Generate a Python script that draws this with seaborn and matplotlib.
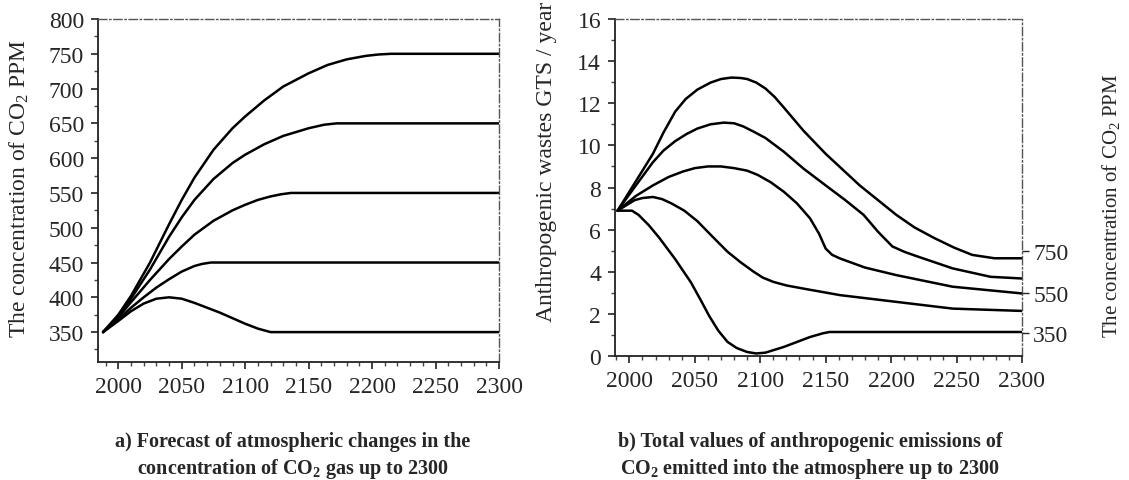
import numpy as np
import pandas as pd
import matplotlib
matplotlib.use("Agg")
import matplotlib.pyplot as plt
import seaborn as sns
from matplotlib.ticker import MultipleLocator

# ---------------- data ----------------
# Panel a: CO2 concentration scenarios (ppm)
a_350_years = [1988, 2000, 2010, 2020, 2030, 2040, 2050, 2060, 2070, 2080, 2090, 2100, 2110, 2120, 2300]
a_350_ppm   = [350, 366, 380, 391, 398, 400, 398, 392, 385, 378, 370, 362, 355, 350, 350]

a_450_years = [1988, 2000, 2010, 2020, 2030, 2040, 2050, 2060, 2066, 2073, 2300]
a_450_ppm   = [350, 368, 385, 400, 414, 426, 437, 445, 448, 450, 450]

a_550_years = [1988, 2000, 2010, 2025, 2040, 2050, 2060, 2075, 2090, 2100, 2110, 2120, 2128, 2136, 2300]
a_550_ppm   = [350, 371, 393, 425, 455, 473, 490, 510, 525, 533, 540, 545, 548, 550, 550]

a_650_years = [1988, 2000, 2010, 2025, 2040, 2050, 2060, 2075, 2090, 2100, 2115, 2130, 2150, 2162, 2172, 2300]
a_650_ppm   = [350, 373, 398, 440, 487, 515, 540, 570, 593, 605, 620, 632, 643, 648, 650, 650]

a_750_years = [1988, 2000, 2010, 2025, 2040, 2050, 2060, 2075, 2090, 2100, 2115, 2130, 2150, 2165, 2180, 2195, 2205, 2215, 2300]
a_750_ppm   = [350, 375, 402, 450, 505, 540, 572, 612, 643, 660, 683, 703, 722, 734, 742, 747, 749, 750, 750]

# Panel b: anthropogenic emissions (Gt / year)
b_350_years = [1991, 2002, 2007, 2015, 2023, 2035, 2047, 2055, 2061, 2068, 2075, 2082, 2090, 2097, 2104, 2118, 2138, 2148, 2153, 2300]
b_350_gts   = [6.9, 6.9, 6.7, 6.2, 5.6, 4.6, 3.5, 2.6, 1.9, 1.2, 0.67, 0.38, 0.19, 0.12, 0.16, 0.43, 0.9, 1.08, 1.14, 1.14]

b_450_years = [1991, 2004, 2010, 2018, 2025, 2032, 2042, 2052, 2063, 2075, 2085, 2095, 2102, 2110, 2120, 2133, 2161, 2204, 2247, 2300]
b_450_gts   = [6.9, 7.4, 7.5, 7.55, 7.45, 7.25, 6.9, 6.4, 5.7, 4.95, 4.45, 4.0, 3.72, 3.52, 3.35, 3.2, 2.89, 2.57, 2.25, 2.14]

b_550_years = [1991, 2005, 2018, 2030, 2041, 2050, 2060, 2070, 2080, 2090, 2098, 2108, 2118, 2128, 2138, 2145, 2150, 2155, 2161, 2180, 2204, 2247, 2300]
b_550_gts   = [6.9, 7.6, 8.1, 8.5, 8.76, 8.92, 9.0, 9.0, 8.92, 8.8, 8.6, 8.25, 7.8, 7.25, 6.54, 5.8, 5.1, 4.8, 4.63, 4.2, 3.84, 3.29, 2.97]

b_650_years = [1991, 2005, 2018, 2026, 2035, 2044, 2052, 2062, 2072, 2080, 2087, 2095, 2104, 2118, 2133, 2150, 2165, 2179, 2190, 2201, 2210, 2219, 2247, 2276, 2300]
b_650_gts   = [6.9, 8.1, 9.2, 9.75, 10.2, 10.55, 10.8, 11.0, 11.08, 11.05, 10.9, 10.65, 10.35, 9.7, 8.9, 8.1, 7.4, 6.7, 5.9, 5.2, 4.95, 4.75, 4.16, 3.76, 3.68]

b_750_years = [1991, 2005, 2018, 2026, 2035, 2043, 2052, 2062, 2070, 2078, 2085, 2090, 2097, 2104, 2111, 2118, 2133, 2150, 2163, 2176, 2190, 2204, 2218, 2233, 2248, 2262, 2279, 2300]
b_750_gts   = [6.9, 8.3, 9.6, 10.6, 11.6, 12.2, 12.65, 12.98, 13.15, 13.22, 13.2, 13.15, 12.98, 12.7, 12.3, 11.8, 10.7, 9.6, 8.85, 8.1, 7.4, 6.7, 6.1, 5.6, 5.15, 4.8, 4.64, 4.64]

x_ticks = [2000, 2050, 2100, 2150, 2200, 2250, 2300]
a_y_ticks = [350, 400, 450, 500, 550, 600, 650, 700, 750, 800]
b_y_ticks = [0, 2, 4, 6, 8, 10, 12, 14, 16]
b_right_tick_pos = [5.0, 3.0, 1.1]
b_right_tick_labels = ["750", "550", "350"]

caption_a = "a) Forecast of atmospheric changes in the\nconcentration of CO$_\\mathregular{2}$ gas up to 2300"
caption_b = "b) Total values of anthropogenic emissions of\nCO$_\\mathregular{2}$ emitted into the atmosphere up to 2300"

# ---------------- style ----------------
sns.set_theme(style="white")
plt.rcParams["font.family"] = ["Liberation Serif", "DejaVu Serif"]
plt.rcParams["mathtext.fontset"] = "custom"
plt.rcParams["mathtext.rm"] = "Liberation Serif"
plt.rcParams["mathtext.it"] = "Liberation Serif:italic"
plt.rcParams["mathtext.bf"] = "Liberation Serif:bold"

fig = plt.figure(figsize=(11.29, 4.81), dpi=100)
axA = fig.add_axes([0.0868, 0.2453, 0.3552, 0.7131])
axB = fig.add_axes([0.5447, 0.2578, 0.3605, 0.7006])

def style_axes(ax):
    for side in ["top", "right"]:
        ax.spines[side].set_visible(True)
        ax.spines[side].set_linestyle((0, (6, 2, 1, 2)))
        ax.spines[side].set_color("#555555")
        ax.spines[side].set_linewidth(1.0)
    for side in ["left", "bottom"]:
        ax.spines[side].set_color("#222222")
        ax.spines[side].set_linewidth(1.3)
    ax.tick_params(axis="both", which="major", direction="out", length=5, width=1.2,
                   color="#222222", labelsize=17, pad=5, bottom=True, left=True)
    ax.tick_params(axis="both", which="minor", direction="out", length=3, width=1.0,
                   color="#444444", bottom=True, left=True)
    ax.grid(False)

def draw(ax, xs, ys):
    sns.lineplot(x=xs, y=ys, ax=ax, color="black", linewidth=1.8, estimator=None, sort=False)

# Panel a
for xs, ys in [(a_350_years, a_350_ppm), (a_450_years, a_450_ppm), (a_550_years, a_550_ppm),
               (a_650_years, a_650_ppm), (a_750_years, a_750_ppm)]:
    draw(axA, xs, ys)
axA.set_xlim(1984, 2300)
axA.set_ylim(307, 800)
axA.set_xticks(x_ticks)
axA.set_yticks(a_y_ticks)
axA.xaxis.set_minor_locator(MultipleLocator(10))
axA.yaxis.set_minor_locator(MultipleLocator(25))
style_axes(axA)
axA.set_ylabel("The concentration of CO$_\\mathregular{2}$ PPM", fontsize=17)
axA.yaxis.set_label_coords(-0.167, 0.51)
axA.set_xlabel("")

# Panel b
for xs, ys in [(b_350_years, b_350_gts), (b_450_years, b_450_gts), (b_550_years, b_550_gts),
               (b_650_years, b_650_gts), (b_750_years, b_750_gts)]:
    draw(axB, xs, ys)
axB.set_xlim(1989, 2300)
axB.set_ylim(0, 16)
axB.set_xticks(x_ticks)
axB.set_yticks(b_y_ticks)
axB.xaxis.set_minor_locator(MultipleLocator(10))
axB.yaxis.set_minor_locator(MultipleLocator(1))
style_axes(axB)
axB.set_ylabel("Anthropogenic wastes GTS / year", fontsize=17)
axB.yaxis.set_label_coords(-0.1425, 0.579)
axB.set_xlabel("")

axB2 = axB.twinx()
axB2.set_ylim(axB.get_ylim())
axB2.set_yticks(b_right_tick_pos)
axB2.set_yticklabels(b_right_tick_labels)
axB2.tick_params(axis="y", direction="out", length=5, width=1.0, labelsize=17, pad=3, right=True)
for s in axB2.spines.values():
    s.set_visible(False)
axB2.grid(False)
axB2.set_ylabel("The concentration of CO$_\\mathregular{2}$ PPM", fontsize=15)
axB2.yaxis.set_label_coords(1.192, 0.45)

fig.text(0.2595, 0.05, caption_a, ha="center", va="center", fontsize=14.5,
         fontweight="bold", linespacing=1.3)
fig.text(0.7175, 0.05, caption_b, ha="center", va="center", fontsize=14.5,
         fontweight="bold", linespacing=1.3)

fig.savefig("out.png", dpi=100)
